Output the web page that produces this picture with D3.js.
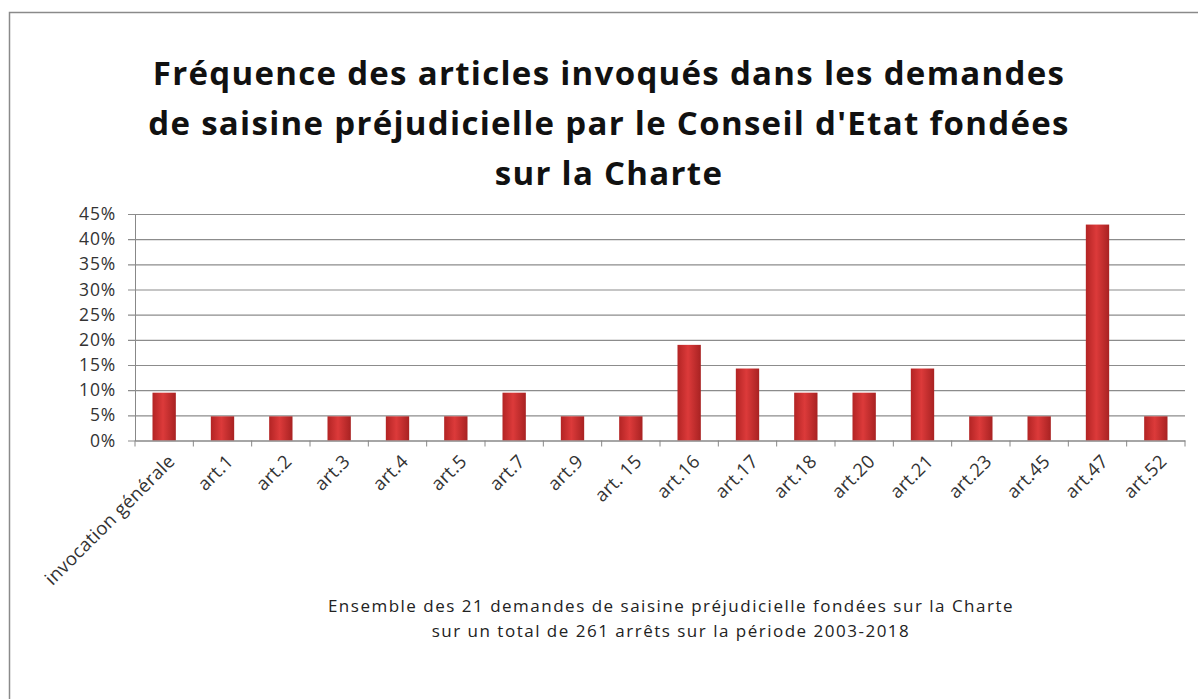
<!DOCTYPE html>
<html>
<head>
<meta charset="utf-8">
<script src="https://cdn.jsdelivr.net/npm/d3@7"></script>
<style>
  body { margin: 0; background: #fff; }
  svg { display: block; }
</style>
</head>
<body>
<svg id="chart" width="1198" height="699"></svg>
<script>
const categories = [
  "invocation générale", "art.1", "art.2", "art.3", "art.4", "art.5", "art.7",
  "art.9", "art. 15", "art.16", "art.17", "art.18", "art.20", "art.21",
  "art.23", "art.45", "art.47", "art.52"
];
// share of the 21 requests citing each article
const frequencies = [
  0.095, 0.048, 0.048, 0.048, 0.048, 0.048, 0.095,
  0.048, 0.048, 0.19, 0.143, 0.095, 0.095, 0.143,
  0.048, 0.048, 0.429, 0.048
];
const yTicks = [0, 0.05, 0.1, 0.15, 0.2, 0.25, 0.3, 0.35, 0.4, 0.45];
const titleLines = [
  "Fréquence des articles invoqués dans les demandes",
  "de saisine préjudicielle par le Conseil d'Etat fondées",
  "sur la Charte"
];
const noteLines = [
  "Ensemble des 21 demandes  de saisine préjudicielle fondées sur la Charte",
  "sur un total de 261 arrêts sur la période 2003-2018"
];

const svg = d3.select("#chart");
const font = "'Open Sans', 'Noto Sans', sans-serif";

// outer chart frame
svg.append("rect")
  .attr("x", 9.5).attr("y", 12.5)
  .attr("width", 1210).attr("height", 720)
  .attr("fill", "none")
  .attr("stroke", "#8a8a8a")
  .attr("stroke-width", 1.5);

const margin = { left: 135, right: 1185, top: 214, bottom: 440.5 };

const x = d3.scaleBand()
  .domain(categories)
  .range([margin.left, margin.right])
  .paddingInner(0.6)
  .paddingOuter(0.3);

const y = d3.scaleLinear()
  .domain([0, 0.45])
  .range([margin.bottom, margin.top]);

// gradient for bars (darker edges, brighter middle)
const defs = svg.append("defs");
const grad = defs.append("linearGradient").attr("id", "barGrad")
  .attr("x1", "0%").attr("x2", "100%").attr("y1", "0%").attr("y2", "0%");
grad.append("stop").attr("offset", "0%").attr("stop-color", "#b32424");
grad.append("stop").attr("offset", "45%").attr("stop-color", "#dc3a3a");
grad.append("stop").attr("offset", "100%").attr("stop-color", "#a82222");

// gridlines + y axis
const yAxis = d3.axisLeft(y)
  .tickValues(yTicks)
  .tickSize(-(margin.right - margin.left))
  .tickSizeOuter(0)
  .tickPadding(19)
  .tickFormat(d3.format(".0%"));

const yG = svg.append("g")
  .attr("transform", `translate(${margin.left},0)`)
  .call(yAxis);
yG.select(".domain").attr("stroke", "#888");
yG.selectAll(".tick line")
  .attr("stroke", "#8c8c8c")
  .attr("stroke-width", 1.2)
  .attr("x1", -7);
yG.selectAll(".tick text")
  .attr("font-family", font)
  .attr("font-size", 17.5)
  .attr("letter-spacing", 0.8)
  .attr("fill", "#333");

// bars
svg.append("g")
  .selectAll("rect")
  .data(frequencies)
  .join("rect")
  .attr("x", (d, i) => x(categories[i]))
  .attr("y", d => y(d))
  .attr("width", x.bandwidth())
  .attr("height", d => y(0) - y(d))
  .attr("fill", "url(#barGrad)");

// x axis
const xAxis = d3.axisBottom(x).tickSize(0).tickPadding(0);
const xG = svg.append("g")
  .attr("transform", `translate(0,${margin.bottom})`)
  .call(xAxis);
xG.select(".domain").attr("stroke", "#888").attr("stroke-width", 1.2);
xG.selectAll(".tick text")
  .attr("font-family", font)
  .attr("font-size", 18.5)
  .attr("letter-spacing", 0.3)
  .attr("fill", "#333")
  .attr("text-anchor", "end")
  .attr("dy", 0)
  .attr("transform", "translate(12,22) rotate(-45)");

// category separator ticks
const sepTicks = categories.map(c => x(c) - x.step() * x.paddingInner() / 2)
  .concat([margin.right]);
xG.selectAll(".sep")
  .data(sepTicks)
  .join("line")
  .attr("class", "sep")
  .attr("x1", d => d).attr("x2", d => d)
  .attr("y1", 0).attr("y2", 6)
  .attr("stroke", "#888");

// title
svg.append("text")
  .attr("text-anchor", "middle")
  .attr("font-family", font)
  .attr("font-weight", "bold")
  .attr("font-size", 33)
  .attr("letter-spacing", 1.3)
  .attr("fill", "#111")
  .selectAll("tspan")
  .data(titleLines)
  .join("tspan")
  .attr("x", 609)
  .attr("y", (d, i) => 85 + i * 50)
  .text(d => d);

// footnote
svg.append("text")
  .attr("text-anchor", "middle")
  .attr("font-family", font)
  .attr("font-size", 17)
  .attr("letter-spacing", 1.5)
  .attr("fill", "#222")
  .selectAll("tspan")
  .data(noteLines)
  .join("tspan")
  .attr("x", 671)
  .attr("y", (d, i) => 612 + i * 25)
  .text(d => d);
</script>
</body>
</html>
